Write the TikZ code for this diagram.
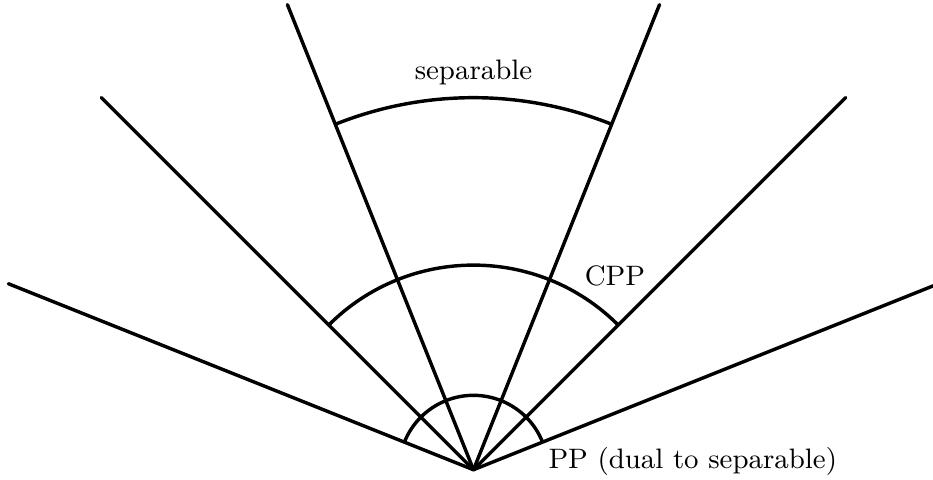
\documentclass[tikz,border=0pt]{standalone}
\begin{document}
\begin{tikzpicture}[x=1cm,y=1cm,
  ray/.style={line width=1.05pt, line cap=round},
  conearc/.style={line width=1.05pt},
  lbl/.style={inner sep=0pt, font=\fontsize{8.6}{10}\selectfont}]
\useasboundingbox (-5.09,-0.10) rectangle (4.94,5.05);
\coordinate (O) at (0,0);
\coordinate (L1) at (-5,2);
\coordinate (L2) at (-4,4);
\coordinate (L3) at (-2,5);
\coordinate (R3) at (2,5);
\coordinate (R2) at (4,4);
\coordinate (R1) at (5,2);
\foreach \e in {L1,L2,L3,R3,R2,R1} \draw[ray] (O) -- (\e);
% PP arc
\draw[conearc] (O) ++(21.8014:0.8) arc[start angle=21.8014, end angle=158.1986, radius=0.8];
% CPP arc
\draw[conearc] (O) ++(45:2.2) arc[start angle=45, end angle=135, radius=2.2];
% separable arc
\draw[conearc] (O) ++(68.1986:4) arc[start angle=68.1986, end angle=111.8014, radius=4];
\node[lbl, anchor=base] (sep) at (0,4.19) {separable};
\node[lbl, anchor=base] (cpp) at (1.52,1.98) {CPP};
\node[lbl, anchor=base west] (pp) at (0.80,0.01) {PP (dual to separable)};
\end{tikzpicture}
\end{document}
